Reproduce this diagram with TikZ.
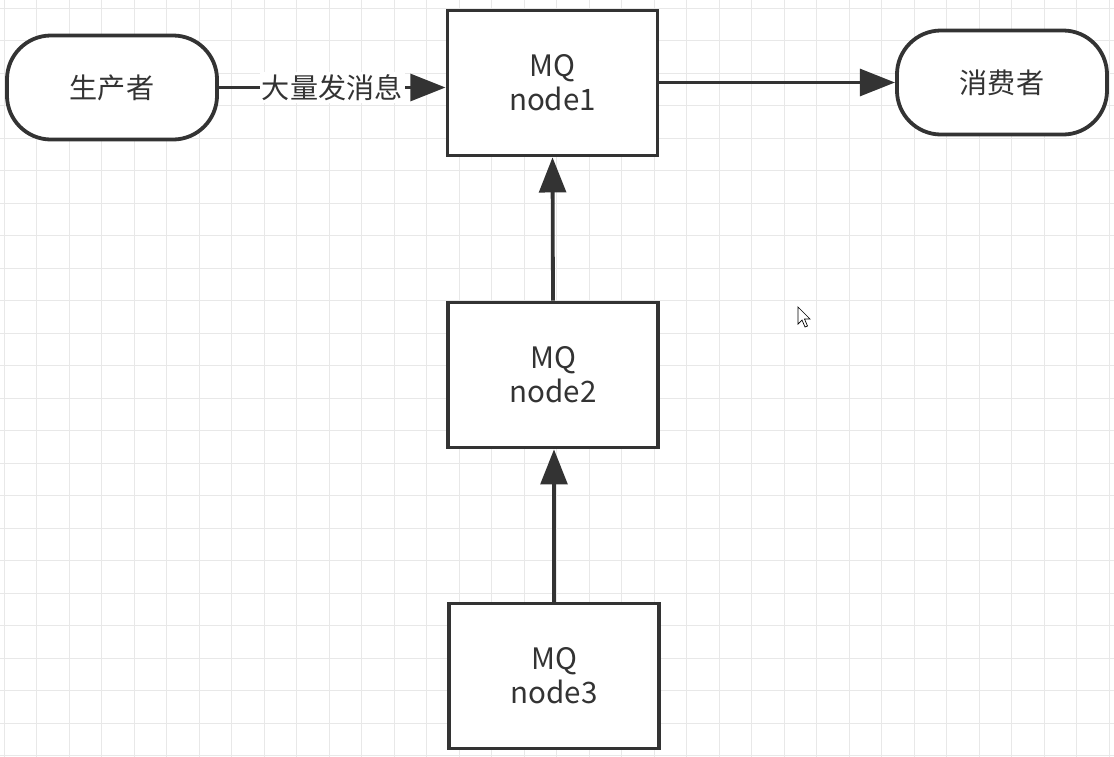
\documentclass[tikz,border=0pt]{standalone}
\usepackage{fontspec}
\setmainfont{Noto Sans CJK SC}
\usetikzlibrary{arrows.meta}
\definecolor{gridgray}{HTML}{E8E8E8}
\definecolor{inkgray}{HTML}{333333}

\begin{document}
\begin{tikzpicture}[x=0.025cm, y=-0.025cm,
    box/.style={draw=inkgray, line width=2.7pt, fill=white, minimum width=5.25cm,
      minimum height=3.62cm, align=center, text=inkgray,
      font=\fontsize{21}{24}\selectfont},
    term/.style={draw=inkgray, line width=2.7pt, fill=white, rounded corners=1.1cm,
      minimum width=5.25cm, minimum height=2.6cm, text=inkgray,
      font=\fontsize{20}{24}\selectfont},
    flow/.style={draw=inkgray, line width=2.7pt, -{Triangle[length=25pt, width=19pt]}}]
  % 背景与网格
  \useasboundingbox (0,0) rectangle (1114,757);
  \fill[white] (0,0) rectangle (1114,757);
  \foreach \i in {0,...,34}
    \draw[gridgray, line width=0.7pt] (4.2+32.5*\i,0) -- (4.2+32.5*\i,757);
  \foreach \j in {0,...,23}
    \draw[gridgray, line width=0.7pt] (0,8.3+32.5*\j) -- (1114,8.3+32.5*\j);

  % 节点
  \node[term] (prod) at (112,87.5) {生产者};
  \node[box] (n1) at (552.5,83) {MQ\\node1};
  \node[term] (cons) at (1002,82.5) {消费者};
  \node[box] (n2) at (553,375) {MQ\\node2};
  \node[box] (n3) at (554,676) {MQ\\node3};

  % 连线
  \draw[flow] (prod.east) -- (prod.east -| n1.west)
    node[midway, fill=white, inner sep=1.5pt, text=inkgray,
      font=\fontsize{20}{24}\selectfont] {大量发消息};
  \draw[flow] (n1.east |- cons.west) -- (cons.west);
  \draw[flow] (n2.north) -- (n1.south);
  \draw[flow] (n3.north) -- (n3.north |- n2.south);

  % 鼠标指针
  \draw[line width=0.5pt, fill=white] (798,307) -- (798,324) -- (802,320) -- (805,327)
    -- (807.5,326) -- (804.5,319) -- (810,319) -- cycle;
\end{tikzpicture}
\end{document}
